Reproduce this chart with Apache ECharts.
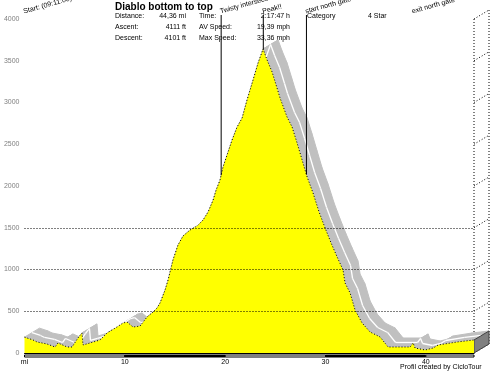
<!DOCTYPE html>
<html><head><meta charset="utf-8">
<script src="https://cdn.jsdelivr.net/npm/echarts@6/dist/echarts.min.js"></script>
<style>html,body{margin:0;padding:0;background:#fff}#c{width:499px;height:374px}</style>
</head><body><div id="c"></div>
<script>
// ---- data ----
const distance = [0.0,0.85,1.25,2.24,3.04,3.34,4.24,4.74,5.33,5.73,5.83,6.53,7.53,8.23,9.22,9.82,10.22,10.82,11.52,12.21,12.81,13.21,13.51,14.01,14.31,14.8,15.3,15.8,16.5,17.2,17.8,18.3,18.8,19.1,19.49,19.79,20.69,21.19,21.69,22.18,22.78,23.28,23.78,24.18,24.68,25.17,25.47,26.17,26.67,27.17,27.67,28.17,28.76,29.36,29.96,30.56,31.16,31.75,31.95,32.45,32.95,33.65,34.45,35.44,36.24,38.43,38.73,38.93,39.93,40.73,41.23,43.12,44.8];
const elevation = [190,156,132,108,72,120,72,72,180,240,96,120,156,240,311,359,371,311,323,431,491,539,599,754,874,1114,1293,1401,1473,1521,1593,1689,1832,1952,2072,2228,2551,2707,2814,3030,3269,3473,3641,3509,3365,3174,3054,2826,2707,2515,2311,2108,1916,1689,1497,1317,1150,994,838,719,515,359,251,192,72,72,120,60,36,60,96,132,156];
const yTicks = [0,500,1000,1500,2000,2500,3000,3500,4000];
const gridLevels = [500,1000,1500];
const xTicks = [0,10,20,30,40];
const xTickLabels = ['mi','10','20','30','40'];
const scaleSegments = [[0,10],[10,20],[20,30],[30,40],[40,44.8]];
const markerDist = [0,19.6,23.8,28.1,38.7];
const markerNames = ['Start: (09:11:00)','Twisty intersection','Peak!!','start north gate','exit north gate'];
const markerHasLine = [false,true,true,true,false];
const title = 'Diablo bottom to top';
const statCol1Labels = ['Distance:','Ascent:','Descent:'];
const statCol1Values = ['44,36 mi','4111 ft','4101 ft'];
const statCol2Labels = ['Time:','AV Speed:','Max Speed:'];
const statCol2Values = ['2:17:47 h','19,39 mph','33,36 mph'];
const statCol3Labels = ['Category'];
const statCol3Values = ['4 Star'];
const footer = 'Profil created by CicloTour';

// ---- layout / style ----
const X_MAX = 44.8, Y_MAX = 4000;
const DX = 15, DY = -9; // depth vector of the 3D ribbon (pixels)
const FONT = 'Liberation Sans, Arial, sans-serif';

function elevAt(d){
  for (let i=0;i<distance.length-1;i++){
    if (d>=distance[i] && d<=distance[i+1]){
      const t=(d-distance[i])/(distance[i+1]-distance[i]);
      return elevation[i]+t*(elevation[i+1]-elevation[i]);
    }
  }
  return elevation[elevation.length-1];
}

const profile = distance.map((d,i)=>[d,elevation[i]]);
const segs = [];
for (let i=0;i<distance.length-1;i++) segs.push([distance[i],elevation[i],distance[i+1],elevation[i+1]]);

const chart = echarts.init(document.getElementById('c'), null, {renderer:'canvas'});

const graphics = [];
graphics.push({type:'text', left:115, top:2, style:{text:title, font:'bold 10px '+FONT, fill:'#000'}});
const rowsY = [13,24,35];
rowsY.forEach((y,i)=>{
  graphics.push({type:'text', x:115, y:y, style:{text:statCol1Labels[i], font:'7px '+FONT, fill:'#000'}});
  graphics.push({type:'text', x:186, y:y, style:{text:statCol1Values[i], font:'7px '+FONT, fill:'#000', align:'right'}});
  graphics.push({type:'text', x:199, y:y, style:{text:statCol2Labels[i], font:'7px '+FONT, fill:'#000'}});
  graphics.push({type:'text', x:290, y:y, style:{text:statCol2Values[i], font:'7px '+FONT, fill:'#000', align:'right'}});
  if (statCol3Labels[i]){
    graphics.push({type:'text', x:307, y:y, style:{text:statCol3Labels[i], font:'7px '+FONT, fill:'#000'}});
    graphics.push({type:'text', x:368, y:y, style:{text:statCol3Values[i], font:'7px '+FONT, fill:'#000'}});
  }
});
graphics.push({type:'text', x:400, y:364, style:{text:footer, font:'7px '+FONT, fill:'#000'}});

const option = {
  animation:false,
  backgroundColor:'#fff',
  grid:{left:24.5, top:19, width:449.5, height:334},
  xAxis:{type:'value', min:0, max:X_MAX, interval:10,
    axisLine:{show:true, lineStyle:{color:'#000', width:1}},
    axisTick:{show:false}, splitLine:{show:false},
    axisLabel:{margin:6, fontSize:7, fontFamily:FONT, color:'#000',
      formatter:v=>{const k=xTicks.indexOf(v); return k>=0?xTickLabels[k]:'';}}},
  yAxis:{type:'value', min:0, max:Y_MAX, interval:500,
    axisLine:{show:false}, axisTick:{show:false}, splitLine:{show:false},
    axisLabel:{margin:5, fontSize:7, fontFamily:FONT, color:'#808080',
      formatter:v=>String(v)}},
  graphic:graphics,
  series:[
    // back wall of 3D box
    {type:'custom', coordinateSystem:'cartesian2d', clip:false, z:1, silent:true,
      data:yTicks.map(v=>[X_MAX,v]),
      renderItem:(p,api)=>{
        const a=api.coord([api.value(0),api.value(1)]);
        const ch=[{type:'line', shape:{x1:a[0],y1:a[1],x2:a[0]+DX,y2:a[1]+DY}, style:{stroke:'#000', lineWidth:1, lineDash:[1,2]}}];
        if (p.dataIndex===0){
          const top=api.coord([X_MAX,Y_MAX]);
          ch.push({type:'line', shape:{x1:top[0],y1:top[1],x2:top[0],y2:a[1]}, style:{stroke:'#000', lineWidth:1, lineDash:[1,2]}});
          ch.push({type:'line', shape:{x1:top[0]+DX,y1:top[1]+DY,x2:top[0]+DX,y2:a[1]+DY}, style:{stroke:'#000', lineWidth:1, lineDash:[1,2]}});
        }
        return {type:'group', children:ch};
      }},
    // gray ribbon (top surface of 3D profile)
    {type:'custom', coordinateSystem:'cartesian2d', clip:false, z:2, silent:true,
      data:segs,
      renderItem:(p,api)=>{
        const a=api.coord([api.value(0),api.value(1)]);
        const b=api.coord([api.value(2),api.value(3)]);
        return {type:'polygon', shape:{points:[a,b,[b[0]+DX,b[1]+DY],[a[0]+DX,a[1]+DY]]},
          style:{fill:'#c0c0c0', stroke:'#c0c0c0', lineWidth:1}};
      }},
    // white mid-line of ribbon
    {type:'custom', coordinateSystem:'cartesian2d', clip:false, z:3, silent:true,
      data:segs,
      renderItem:(p,api)=>{
        const a=api.coord([api.value(0),api.value(1)]);
        const b=api.coord([api.value(2),api.value(3)]);
        return {type:'line', shape:{x1:a[0]+DX/2,y1:a[1]+DY/2,x2:b[0]+DX/2,y2:b[1]+DY/2},
          style:{stroke:'#fff', lineWidth:1.3}};
      }},
    // end face
    {type:'custom', coordinateSystem:'cartesian2d', clip:false, z:3, silent:true,
      data:[[distance[distance.length-1], elevation[elevation.length-1]]],
      renderItem:(p,api)=>{
        const a=api.coord([api.value(0),api.value(1)]);
        const b=api.coord([api.value(0),0]);
        return {type:'polygon', shape:{points:[a,[a[0]+DX,a[1]+DY],[b[0]+DX,b[1]+DY],b]},
          style:{fill:'#808080', stroke:'#404040', lineWidth:1}};
      }},
    // yellow profile
    {type:'line', data:profile, z:4, symbol:'none', silent:true,
      lineStyle:{color:'#000', width:1, type:[1,2]},
      areaStyle:{color:'#ffff00', opacity:1},
      markLine:{silent:true, symbol:'none', label:{show:false},
        lineStyle:{color:'#000', width:1, type:[1,2]},
        data:gridLevels.map(v=>({yAxis:v}))}},
    // scale bar under axis
    {type:'custom', coordinateSystem:'cartesian2d', clip:false, z:5, silent:true,
      data:scaleSegments,
      renderItem:(p,api)=>{
        const a=api.coord([api.value(0),0]);
        const b=api.coord([api.value(1),0]);
        const black=p.dataIndex%2===1;
        return {type:'rect', shape:{x:a[0],y:a[1]+2,width:b[0]-a[0],height:2},
          style:{fill:black?'#000':'#fff', stroke:'#000', lineWidth:1}};
      }},
    // markers
    {type:'custom', coordinateSystem:'cartesian2d', clip:false, z:6, silent:true,
      data:markerDist.map((d,i)=>[d,elevAt(d),i]),
      renderItem:(p,api)=>{
        const i=api.value(2);
        const top=api.coord([api.value(0),Y_MAX]);
        const bot=api.coord([api.value(0),api.value(1)]);
        const ch=[];
        if (markerHasLine[i]) ch.push({type:'line', shape:{x1:top[0],y1:top[1]-4,x2:bot[0],y2:bot[1]}, style:{stroke:'#000', lineWidth:1}});
        ch.push({type:'text', x:top[0], y:top[1]-4, rotation:0.27,
          style:{text:markerNames[i], font:'7px '+FONT, fill:'#000', align:'left', verticalAlign:'bottom'}});
        return {type:'group', children:ch};
      }}
  ]
};
chart.setOption(option);
</script></body></html>
